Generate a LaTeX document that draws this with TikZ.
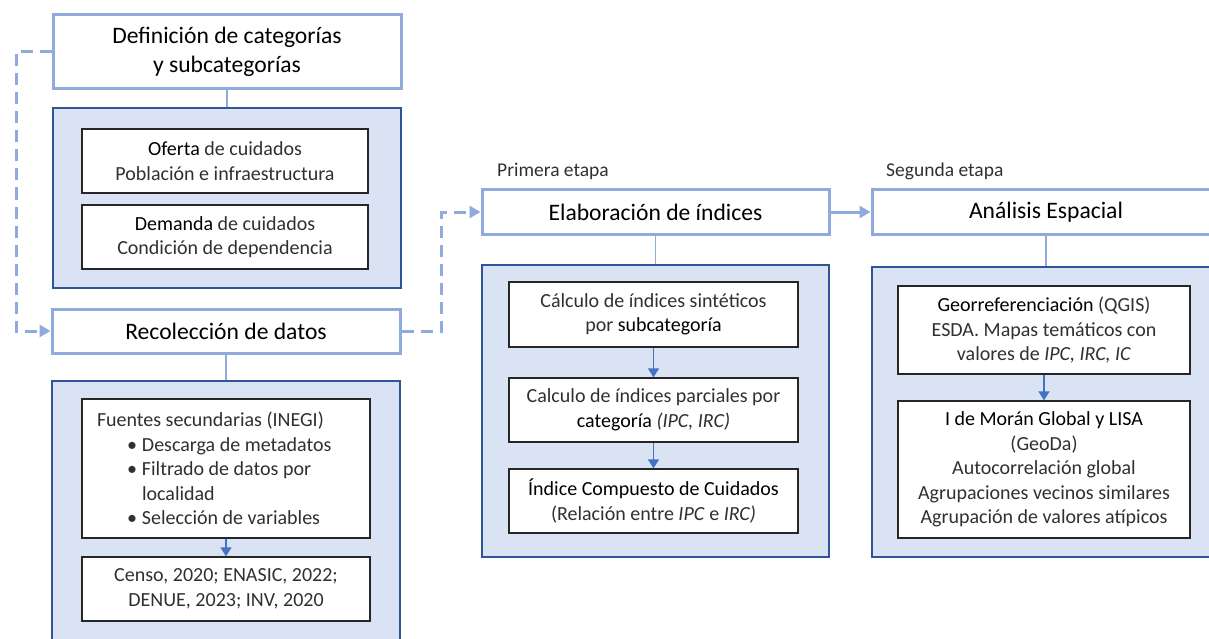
\documentclass[tikz,border=0pt]{standalone}
\usepackage{fontspec}
\setmainfont{Carlito}
\usetikzlibrary{arrows.meta}
\definecolor{hdr}{HTML}{8FAADC}
\definecolor{pfill}{HTML}{DAE3F3}
\definecolor{pborder}{HTML}{2F5597}
\definecolor{arr}{HTML}{4472C4}
\definecolor{lt}{HTML}{303030}
\begin{document}
\begin{tikzpicture}[x=1pt,y=-1pt,
  header/.style={draw=hdr,line width=3pt,fill=white,minimum height=44pt,minimum width=348pt,inner sep=0pt,font=\fontsize{23.6}{28.5}\selectfont,align=center},
  panel/.style={draw=pborder,line width=2pt,fill=pfill,inner sep=0pt},
  inbox/.style={draw=black!85,line width=1.3pt,fill=white,inner sep=0pt,align=center,font=\fontsize{20}{24.5}\selectfont\color{lt}},
  stem/.style={draw=hdr,line width=1.3pt},
  flow/.style={draw=arr,line width=1.3pt,-{Triangle[length=9pt,width=11pt]}},
  dashlink/.style={draw=hdr,line width=3pt,dash pattern=on 12pt off 7pt,-{Triangle[length=11pt,width=12pt]}},
  stage/.style={font=\fontsize{19.5}{22}\selectfont\color{lt},anchor=west,inner sep=0pt}
]
\useasboundingbox (0,0) rectangle (1209,639);
\clip (0,0) rectangle (1209,639);

% panels
\node[panel,minimum width=348pt,minimum height=180pt] (p1) at (227,198) {};
\node[panel,minimum width=348pt,minimum height=300pt] (p2) at (226,531) {};
\node[panel,minimum width=347pt,minimum height=292pt] (p3) at (655.5,411) {};
\node[panel,minimum width=348pt,minimum height=290pt] (p4) at (1046,412) {};

% headers
\node[header,minimum height=74pt] (def) at (227,52) {Definición de categorías\\y subcategorías};
\node[header] (rec) at (226,331) {Recolección de datos};
\node[header,minimum width=347pt] (ela) at (655.5,212) {Elaboración de índices};
\node[header] (ana) at (1046,212) {Análisis Espacial};

\node[stage] (s1) at (497,171) {Primera etapa};
\node[stage] (s2) at (886,171) {Segunda etapa};

% stems
\draw[stem] (def.south) -- (p1.north);
\draw[stem] (rec.south) -- (p2.north);
\draw[stem] (ela.south) -- (p3.north);
\draw[stem] (ana.south) -- (p4.north);

% panel 1
\node[inbox,minimum width=286pt,minimum height=64pt] (of) at (225,161) {{\color{black}Oferta} de cuidados\\Población e infraestructura};
\node[inbox,minimum width=286pt,minimum height=64pt] (de) at (225,237) {{\color{black}Demanda} de cuidados\\Condición de dependencia};

% panel 2
\node[inbox,minimum width=288pt,minimum height=139pt,align=left] (fu) at (226,468.5) {%
\hspace*{0pt}\makebox[258pt][l]{Fuentes secundarias (INEGI)}\\
\hspace*{30pt}\makebox[15pt][l]{\textbullet}Descarga de metadatos\\
\hspace*{30pt}\makebox[15pt][l]{\textbullet}Filtrado de datos por\\
\hspace*{45pt}localidad\\
\hspace*{30pt}\makebox[15pt][l]{\textbullet}Selección de variables};
\node[inbox,minimum width=288pt,minimum height=64pt] (ce) at (226,589) {Censo, 2020; ENASIC, 2022;\\DENUE, 2023; INV, 2020};
\draw[flow] (fu.south) -- (ce.north);

% panel 3
\node[inbox,minimum width=289pt,minimum height=65pt] (a) at (653.5,314.5) {Cálculo de índices sintéticos\\por {\color{black}subcategoría}};
\node[inbox,minimum width=289pt,minimum height=64pt] (b) at (653.5,410) {Calculo de índices parciales por\\{\color{black}categoría} \textit{(IPC, IRC)}};
\node[inbox,minimum width=289pt,minimum height=64pt] (c) at (653.5,501) {{\color{black}Índice Compuesto de Cuidados}\\(Relación entre \textit{IPC} e \textit{IRC)}};
\draw[flow] (a.south) -- (b.north);
\draw[flow] (b.south) -- (c.north);

% panel 4
\node[inbox,minimum width=292pt,minimum height=88pt] (g) at (1044,330) {{\color{black}Georreferenciación} (QGIS)\\ESDA. Mapas temáticos con\\valores de \textit{IPC, IRC, IC}};
\node[inbox,minimum width=292pt,minimum height=137pt] (m) at (1044,469.5) {{\color{black}I de Morán Global y LISA}\\(GeoDa)\\Autocorrelación global\\Agrupaciones vecinos similares\\Agrupación de valores atípicos};
\draw[flow] (g.south) -- (m.north);

% links
\coordinate (l1) at (16,52);
\coordinate (l2) at (16,331);
\coordinate (r1) at (441,331);
\coordinate (r2) at (441,212);
\draw[dashlink] (def.west) -- (l1) -- (l2) -- (rec.west);
\draw[dashlink] (rec.east) -- (r1) -- (r2) -- (ela.west);
\draw[draw=hdr,line width=3pt,-{Triangle[length=11pt,width=12pt]}] (ela.east) -- (ana.west);
\end{tikzpicture}
\end{document}
